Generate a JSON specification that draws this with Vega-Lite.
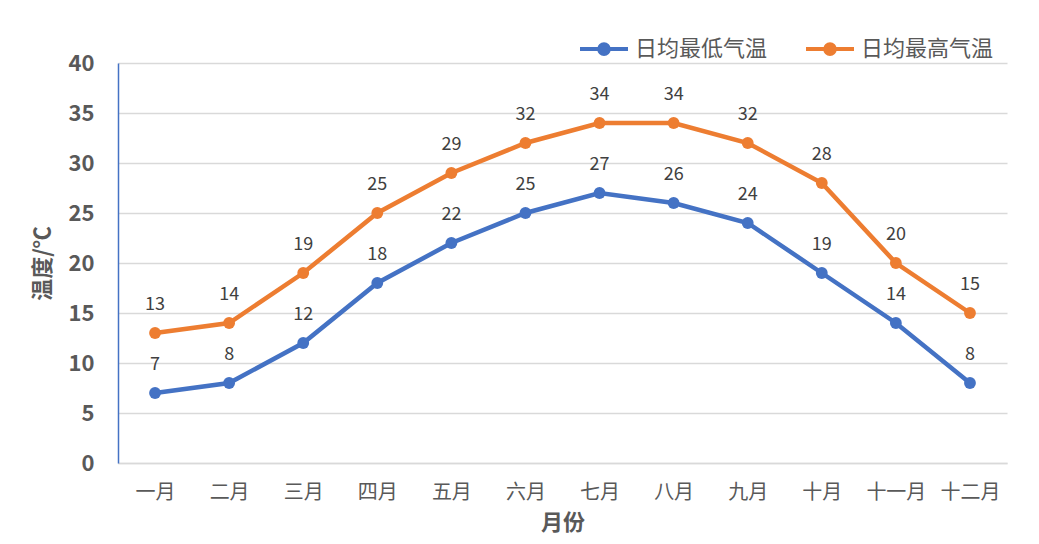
{
  "$schema": "https://vega.github.io/schema/vega-lite/v6.json",
  "autosize": {"type": "none"},
  "width": 889,
  "height": 400,
  "padding": {"left": 118, "top": 63, "right": 32, "bottom": 81},
  "background": "white",
  "config": {
    "font": "Noto Sans CJK SC",
    "view": {"stroke": null}
  },
  "data": {
    "values": [
      {"month": "一月", "series": "日均最低气温", "temp": 7},
      {"month": "二月", "series": "日均最低气温", "temp": 8},
      {"month": "三月", "series": "日均最低气温", "temp": 12},
      {"month": "四月", "series": "日均最低气温", "temp": 18},
      {"month": "五月", "series": "日均最低气温", "temp": 22},
      {"month": "六月", "series": "日均最低气温", "temp": 25},
      {"month": "七月", "series": "日均最低气温", "temp": 27},
      {"month": "八月", "series": "日均最低气温", "temp": 26},
      {"month": "九月", "series": "日均最低气温", "temp": 24},
      {"month": "十月", "series": "日均最低气温", "temp": 19},
      {"month": "十一月", "series": "日均最低气温", "temp": 14},
      {"month": "十二月", "series": "日均最低气温", "temp": 8},
      {"month": "一月", "series": "日均最高气温", "temp": 13},
      {"month": "二月", "series": "日均最高气温", "temp": 14},
      {"month": "三月", "series": "日均最高气温", "temp": 19},
      {"month": "四月", "series": "日均最高气温", "temp": 25},
      {"month": "五月", "series": "日均最高气温", "temp": 29},
      {"month": "六月", "series": "日均最高气温", "temp": 32},
      {"month": "七月", "series": "日均最高气温", "temp": 34},
      {"month": "八月", "series": "日均最高气温", "temp": 34},
      {"month": "九月", "series": "日均最高气温", "temp": 32},
      {"month": "十月", "series": "日均最高气温", "temp": 28},
      {"month": "十一月", "series": "日均最高气温", "temp": 20},
      {"month": "十二月", "series": "日均最高气温", "temp": 15}
    ]
  },
  "encoding": {
    "x": {
      "field": "month",
      "type": "ordinal",
      "sort": ["一月", "二月", "三月", "四月", "五月", "六月", "七月", "八月", "九月", "十月", "十一月", "十二月"],
      "scale": {"type": "point", "padding": 0.5},
      "axis": {
        "title": "月份",
        "titleFont": "Noto Sans CJK SC",
        "titleFontSize": 22,
        "titleFontWeight": "bold",
        "titleColor": "#595959",
        "titleY": 59,
        "titleBaseline": "middle",
        "labelAngle": 0,
        "labelFontSize": 20,
        "labelColor": "#595959",
        "labelPadding": 19,
        "ticks": false,
        "tickSize": 0,
        "grid": false,
        "domainColor": "#D9D9D9",
        "domainWidth": 1.5
      }
    },
    "y": {
      "field": "temp",
      "type": "quantitative",
      "scale": {"domain": [0, 40], "nice": false},
      "axis": {
        "title": "温度/℃",
        "titleFontSize": 22,
        "titleFontWeight": "bold",
        "titleColor": "#595959",
        "titleAngle": -90,
        "titleX": -76,
        "titleY": 200,
        "titleAlign": "center",
        "titleBaseline": "middle",
        "values": [0, 5, 10, 15, 20, 25, 30, 35, 40],
        "labelFontSize": 22,
        "labelFontWeight": "bold",
        "labelColor": "#595959",
        "labelPadding": 24,
        "ticks": false,
        "tickSize": 0,
        "grid": true,
        "gridColor": "#D9D9D9",
        "gridWidth": 1.3,
        "domainColor": "#4472C4",
        "domainWidth": 1.5
      }
    },
    "color": {
      "field": "series",
      "type": "nominal",
      "scale": {"domain": ["日均最低气温", "日均最高气温"], "range": ["#4472C4", "#ED7D31"]},
      "legend": {
        "title": null,
        "orient": "none",
        "direction": "horizontal",
        "legendX": 460,
        "legendY": -40,
        "labelFontSize": 22,
        "labelColor": "#595959",
        "labelOffset": 5,
        "columnPadding": 30,
        "symbolType": "M-1,0H1M-0.2,0A0.2,0.2,0,1,1,0.2,0A0.2,0.2,0,1,1,-0.2,0",
        "symbolSize": 2304,
        "symbolStrokeWidth": 4,
        "symbolFillColor": null
      }
    }
  },
  "layer": [
    {
      "mark": {"type": "line", "strokeWidth": 4.5, "point": {"filled": true, "size": 140}}
    },
    {
      "mark": {"type": "text", "dy": -28, "fontSize": 18, "color": "#404040", "baseline": "middle"},
      "encoding": {
        "text": {"field": "temp", "type": "quantitative"},
        "color": {"value": "#404040"}
      }
    }
  ]
}
